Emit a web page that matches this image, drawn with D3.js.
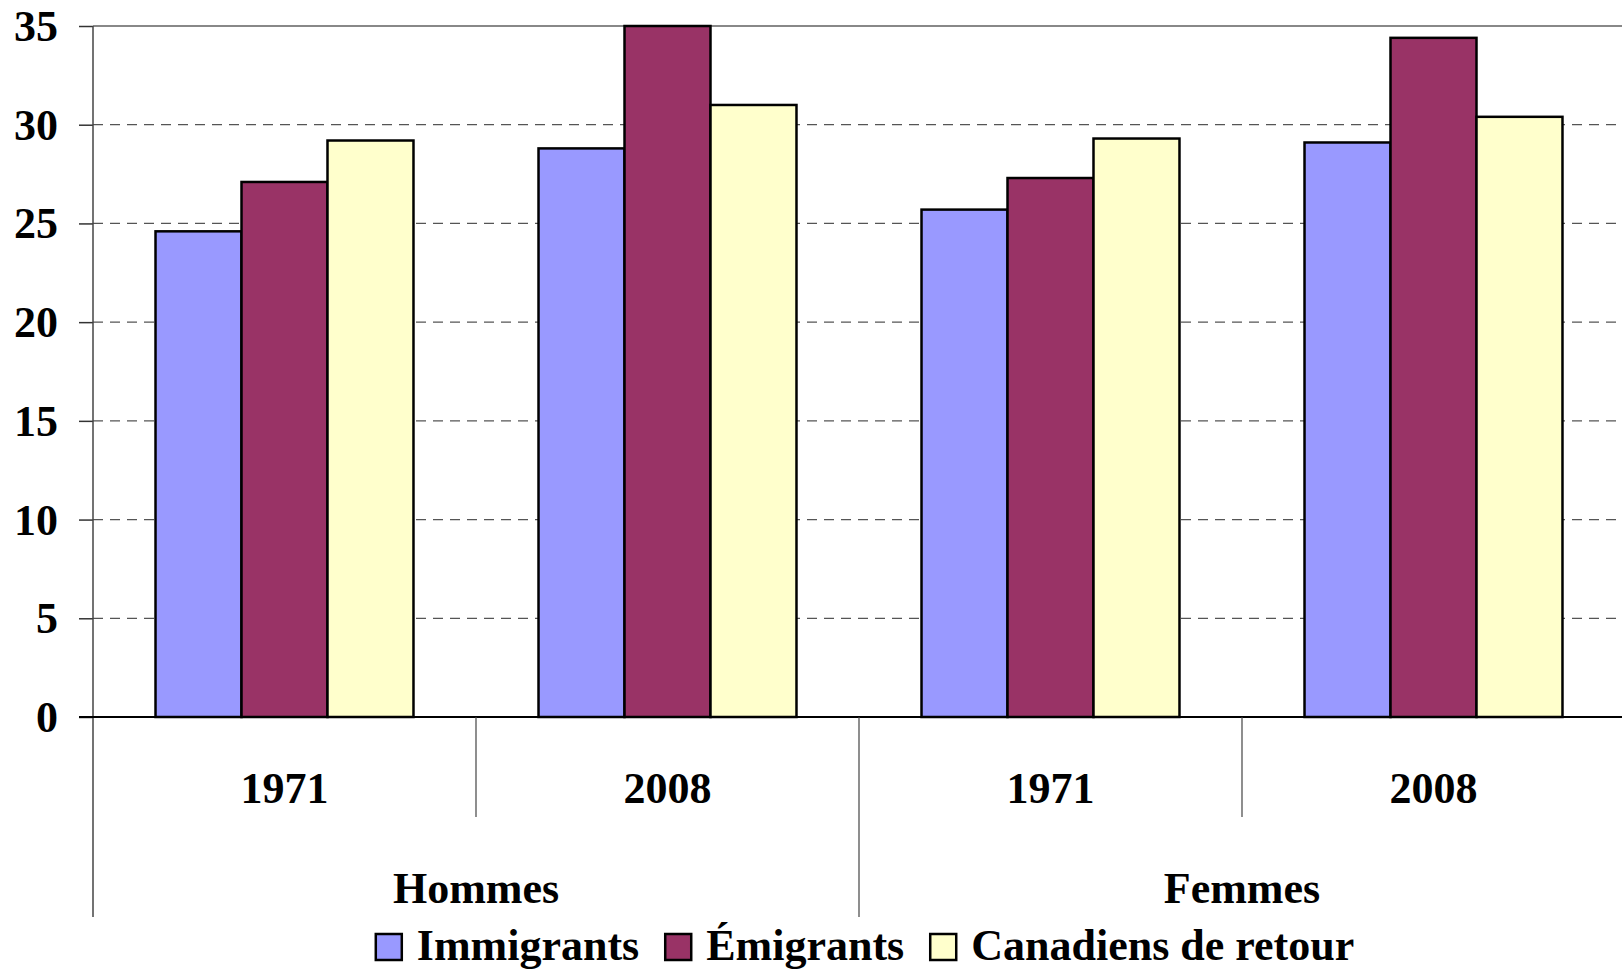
<!DOCTYPE html>
<html>
<head>
<meta charset="utf-8">
<script src="https://cdn.jsdelivr.net/npm/d3@7"></script>
<style>
html,body{margin:0;padding:0;background:#fff;overflow:hidden;}
svg{display:block;}
text{font-family:"Liberation Serif","Times New Roman",serif;font-weight:bold;fill:#000;}
</style>
</head>
<body>
<svg id="chart" width="1622" height="969"></svg>
<script>
// ---- Data ----
const sexes = ["Hommes", "Femmes"];
const years = ["1971", "2008"];
const seriesNames = ["Immigrants", "Émigrants", "Canadiens de retour"];
const immigrants = [24.6, 28.8, 25.7, 29.1];
const emigrants  = [27.1, 35.0, 27.3, 34.4];
const canadiens  = [29.2, 31.0, 29.3, 30.4];
const yTicks = [0, 5, 10, 15, 20, 25, 30, 35];
const colors = ["#9999FF", "#993366", "#FFFFCC"];

(function() {
// ---- Build categories ----
const categories = [];
sexes.forEach(s => years.forEach(y => categories.push({sex: s, year: y, key: s + "|" + y})));
const seriesValues = [immigrants, emigrants, canadiens];

const svg = d3.select("#chart");
const pLeft = 93, pRight = 1625, pTop = 26, pBottom = 717;

const y = d3.scaleLinear().domain([0, 35]).range([pBottom, pTop]);
const x0 = d3.scaleBand().domain(categories.map(c => c.key)).range([pLeft, pRight]).padding(0);
const x1 = d3.scaleBand().domain(seriesNames).range([0, x0.bandwidth()]).paddingInner(0).paddingOuter(0.727);
const xSex = d3.scaleBand().domain(sexes).range([pLeft, pRight]).padding(0);

// gridlines (dashed)
svg.append("g").selectAll("line").data(yTicks.filter(t => t > 0 && t < 35)).join("line")
  .attr("x1", pLeft).attr("x2", pRight)
  .attr("y1", d => y(d)).attr("y2", d => y(d))
  .attr("stroke", "#555").attr("stroke-width", 1.2).attr("stroke-dasharray", "10,7");

// top border
svg.append("line").attr("x1", pLeft).attr("x2", pRight).attr("y1", y(35)).attr("y2", y(35))
  .attr("stroke", "#888").attr("stroke-width", 2);

// bars
const gGroups = svg.append("g").selectAll("g").data(categories).join("g")
  .attr("transform", d => `translate(${x0(d.key)},0)`);
gGroups.each(function(c, ci) {
  d3.select(this).selectAll("rect").data(seriesNames.map((s, si) => ({s, si, v: seriesValues[si][ci]})))
    .join("rect")
    .attr("x", d => x1(d.s))
    .attr("width", x1.bandwidth())
    .attr("y", d => y(d.v))
    .attr("height", d => y(0) - y(d.v))
    .attr("fill", d => colors[d.si])
    .attr("stroke", "#000").attr("stroke-width", 2.5);
});

// y axis
const yAxis = d3.axisLeft(y).tickValues(yTicks).tickSize(14).tickPadding(21);
const gy = svg.append("g").attr("transform", `translate(${pLeft},0)`).call(yAxis);
gy.select(".domain").remove();
gy.selectAll(".tick line").attr("stroke", "#333").attr("stroke-width", 1.5);
gy.selectAll(".tick text").attr("font-size", 44).attr("font-family", "Liberation Serif, serif")
  .attr("font-weight", "bold").attr("fill", "#000").attr("dy", "0.33em");
svg.append("line").attr("x1", pLeft).attr("x2", pLeft).attr("y1", pTop).attr("y2", 917)
  .attr("stroke", "#444").attr("stroke-width", 1.5);

// zero line
svg.append("line").attr("x1", pLeft - 14).attr("x2", pRight).attr("y1", y(0)).attr("y2", y(0))
  .attr("stroke", "#000").attr("stroke-width", 2);

// category dividers
const yearDividers = categories.filter(c => c.year !== years[0]).map(c => x0(c.key));
svg.append("g").selectAll("line").data(yearDividers).join("line")
  .attr("x1", d => d).attr("x2", d => d).attr("y1", pBottom).attr("y2", 817)
  .attr("stroke", "#444").attr("stroke-width", 1.2);
svg.append("g").selectAll("line").data(sexes.slice(1)).join("line")
  .attr("x1", d => xSex(d)).attr("x2", d => xSex(d)).attr("y1", pBottom).attr("y2", 917)
  .attr("stroke", "#444").attr("stroke-width", 1.2);

// year labels
svg.append("g").selectAll("text").data(categories).join("text")
  .attr("x", d => x0(d.key) + x0.bandwidth() / 2)
  .attr("y", 803)
  .attr("text-anchor", "middle").attr("font-size", 44)
  .text(d => d.year);

// sex labels
svg.append("g").selectAll("text").data(sexes).join("text")
  .attr("x", d => xSex(d) + xSex.bandwidth() / 2)
  .attr("y", 903)
  .attr("text-anchor", "middle").attr("font-size", 44)
  .text(d => d);

// legend
const legend = svg.append("g");
const items = legend.selectAll("g").data(seriesNames).join("g");
items.append("rect").attr("x", 0).attr("y", 934).attr("width", 26).attr("height", 26)
  .attr("fill", (d, i) => colors[i]).attr("stroke", "#000").attr("stroke-width", 2.5);
items.append("text").attr("x", 41).attr("y", 960).attr("font-size", 44).text(d => d);
let cx = 0;
const offsets = [];
items.each(function() {
  offsets.push(cx);
  const w = d3.select(this).select("text").node().getComputedTextLength();
  cx += 41 + w + 26;
});
const total = cx - 26;
const startX = 865 - total / 2;
items.attr("transform", (d, i) => `translate(${startX + offsets[i]},0)`);
})();
</script>
</body>
</html>
